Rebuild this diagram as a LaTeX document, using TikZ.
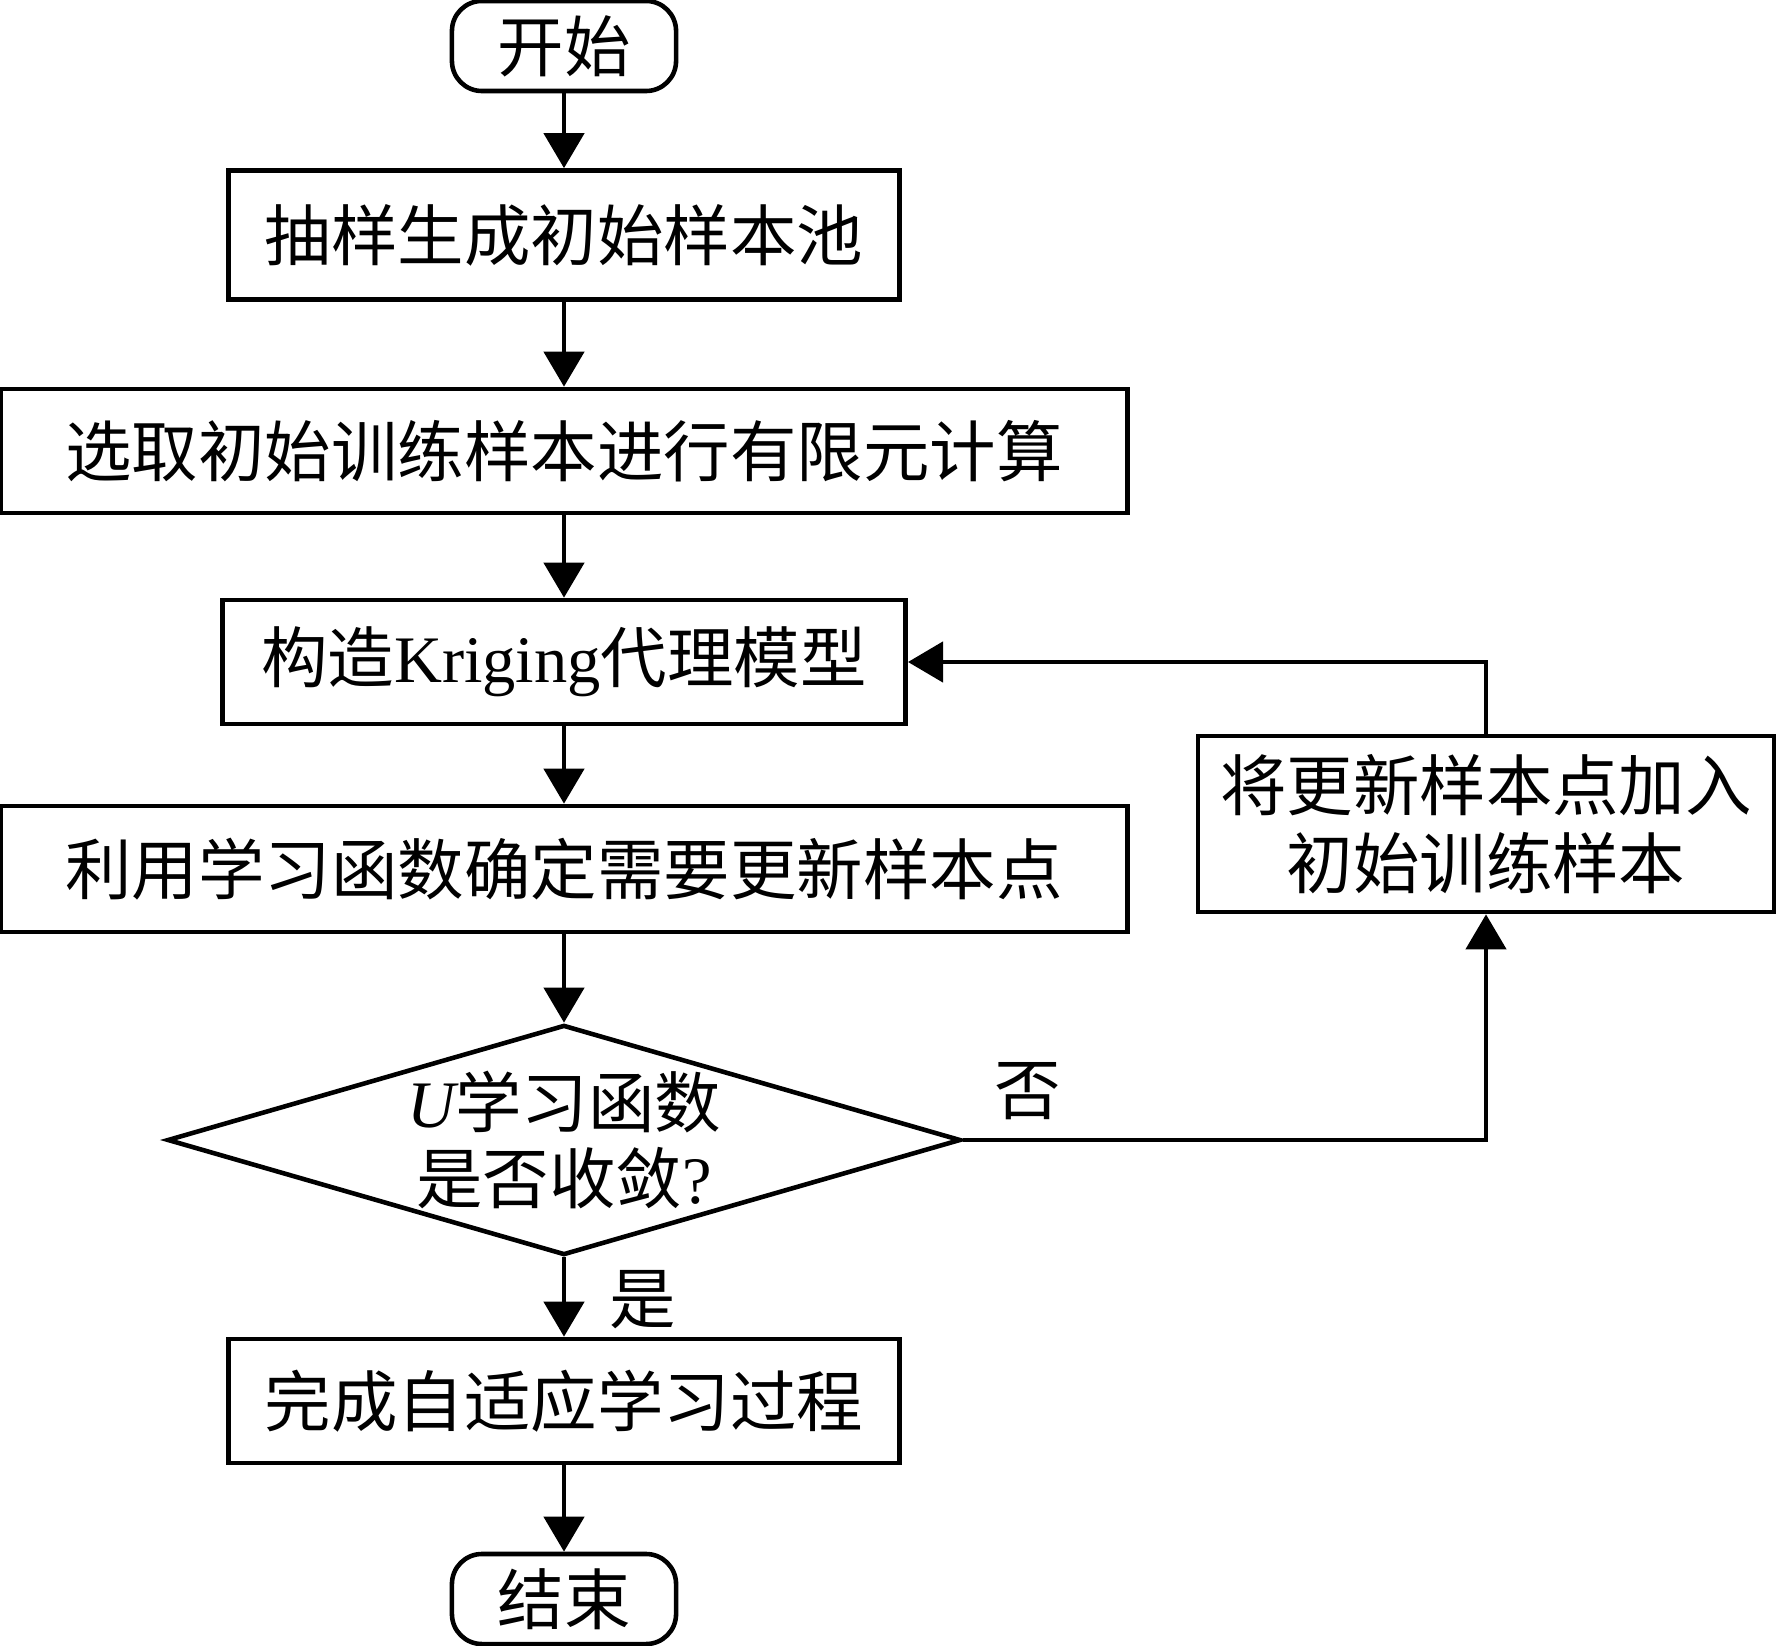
\documentclass[tikz,border=0pt]{standalone}
\usepackage{fontspec}
\setmainfont{Liberation Serif}
\newfontfamily\cjk{Noto Sans CJK SC}
\usetikzlibrary{shapes.geometric, arrows.meta}

\begin{document}
\begin{tikzpicture}[x=0.01cm, y=-0.01cm]
  \tikzstyle{boite}=[draw, line width=1.3pt, inner sep=0, align=center, font=\fontsize{18.9}{23}\selectfont\cjk];
  \tikzstyle{debut}=[boite, rounded corners=0.3cm, minimum width=2.24cm, minimum height=0.9cm];
  \tikzstyle{losange}=[boite, diamond, aspect=3.45, minimum width=7.93cm, minimum height=2.3cm];
  \tikzstyle{fleche}=[line width=1.3pt, -{Triangle[length=0.35cm, width=0.4cm]}];

  \useasboundingbox (0, 0) rectangle (1776, 1646);

  \coordinate (D) at (564, 46);
  \coordinate (P) at (564, 235);
  \coordinate (F) at (564, 451);
  \coordinate (K) at (564, 662);
  \coordinate (L) at (564, 869);
  \coordinate (C) at (564, 1140);
  \coordinate (A) at (564, 1401);
  \coordinate (E) at (564, 1599);
  \coordinate (M) at (1486, 824);

  \node[debut] (debut) at (D) {开始};
  \node[boite, minimum width=6.71cm, minimum height=1.29cm] (pool) at (P) {抽样生成初始样本池};
  \node[boite, minimum width=11.26cm, minimum height=1.24cm] (fem) at (F) {选取初始训练样本进行有限元计算};
  \node[boite, minimum width=6.83cm, minimum height=1.24cm] (kriging) at (K) {构造{\rmfamily Kriging}代理模型};
  \node[boite, minimum width=11.26cm, minimum height=1.26cm] (learn) at (L) {利用学习函数确定需要更新样本点};
  \node[losange] (conv) at (C) {{\rmfamily\itshape U}学习函数\\[-0.05cm]是否收敛{\rmfamily ?}};
  \node[boite, minimum width=6.71cm, minimum height=1.24cm] (fin) at (A) {完成自适应学习过程};
  \node[debut] (end) at (E) {结束};
  \node[boite, minimum width=5.76cm, minimum height=1.76cm] (update) at (M) {将更新样本点加入\\[-0.03cm]初始训练样本};

  \foreach \a/\b in {debut/pool, pool/fem, fem/kriging, kriging/learn, learn/conv, conv/fin, fin/end} {
    \draw[fleche] (\a) -- (\b);
  }
  \draw[fleche] (conv.east) -| (update.south);
  \draw[fleche] (update.north) |- (kriging.east);

  \node[font=\fontsize{18.9}{23}\selectfont\cjk] (non) at (1028, 1091) {否};
  \node[font=\fontsize{18.9}{23}\selectfont\cjk] (oui) at (643, 1300) {是};
\end{tikzpicture}
\end{document}
